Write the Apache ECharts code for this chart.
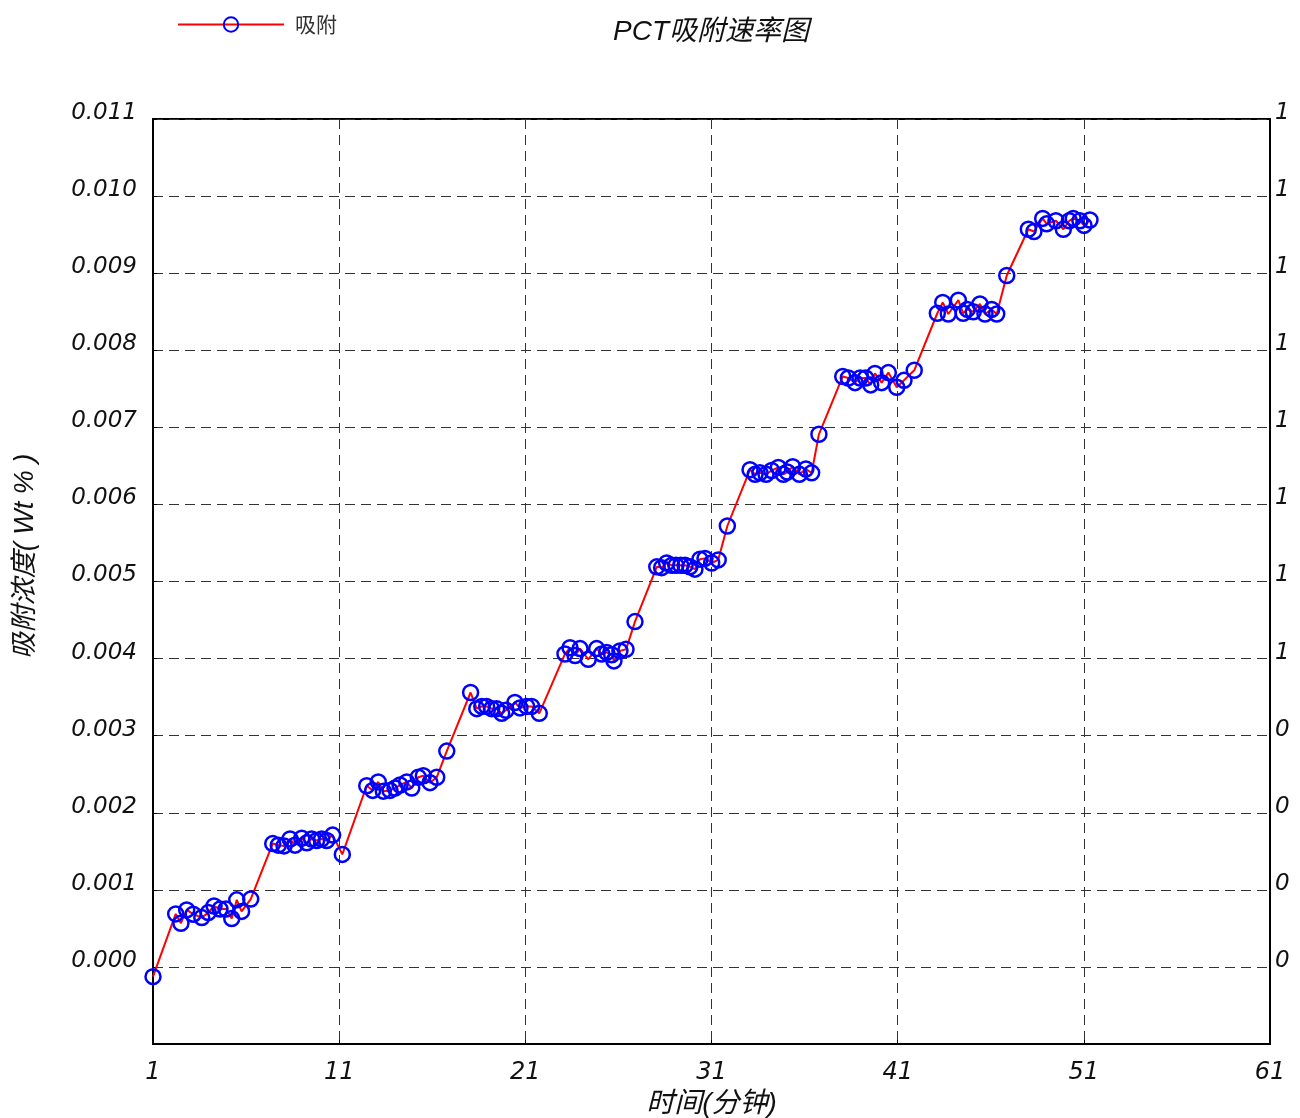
<!DOCTYPE html>
<html>
<head>
<meta charset="utf-8">
<script src="https://cdn.jsdelivr.net/npm/echarts@6/dist/echarts.min.js"></script>
<style>html,body{margin:0;padding:0;background:#fff}#c{width:1300px;height:1118px}</style>
</head>
<body>
<div id="c"></div>
<script>
// ---- data ----
const times = [
  1.0,
  2.22, 2.50, 2.81, 3.16, 3.62, 3.97, 4.28, 4.60, 4.92, 5.23, 5.50, 5.76, 6.25,
  7.43, 7.73, 8.04, 8.36, 8.63, 8.99, 9.26, 9.52, 9.79, 10.06, 10.33, 10.65, 11.17,
  12.48, 12.80, 13.10, 13.37, 13.73, 14.00, 14.27, 14.63, 14.90, 15.25, 15.52, 15.88, 16.24, 16.78,
  18.06, 18.39, 18.66, 18.92, 19.19, 19.46, 19.73, 19.96, 20.44, 20.71, 21.07, 21.34, 21.75,
  23.13, 23.40, 23.67, 23.94, 24.38, 24.83, 25.10, 25.37, 25.64, 25.76, 26.08, 26.41, 26.89,
  28.06, 28.32, 28.59, 28.86, 29.09, 29.35, 29.58, 29.84, 30.11, 30.38, 30.65, 31.01, 31.36, 31.85,
  33.07, 33.34, 33.60, 33.93, 34.23, 34.59, 34.86, 35.07, 35.36, 35.72, 36.07, 36.38, 36.77,
  38.05, 38.35, 38.71, 38.98, 39.28, 39.55, 39.78, 40.14, 40.50, 40.95, 41.34, 41.89,
  43.13, 43.42, 43.72, 44.26, 44.52, 44.74, 45.06, 45.42, 45.69, 46.05, 46.32, 46.86,
  48.02, 48.32, 48.79, 49.00, 49.50, 49.90, 50.22, 50.43, 50.79, 51.01, 51.33
];
const values = [
  -0.000126,
  0.000688, 0.000567, 0.000740, 0.000684, 0.000640, 0.000705, 0.000790, 0.000750, 0.000750, 0.000627, 0.000870, 0.000720, 0.000880,
  0.00160, 0.00158, 0.00157, 0.00166, 0.00158, 0.00167, 0.00161, 0.00166, 0.00164, 0.00166, 0.00164, 0.00171, 0.00146,
  0.00235, 0.00229, 0.00240, 0.00228, 0.00229, 0.00232, 0.00236, 0.00240, 0.00232, 0.00246, 0.00248, 0.00239, 0.00246, 0.00280,
  0.00356, 0.00335, 0.00338, 0.00338, 0.00335, 0.00335, 0.00329, 0.00333, 0.00343, 0.00336, 0.00338, 0.00338, 0.00329,
  0.00406, 0.00414, 0.00404, 0.00413, 0.00399, 0.00413, 0.00406, 0.00408, 0.00405, 0.00397, 0.00410, 0.00412, 0.00448,
  0.00519, 0.00518, 0.00524, 0.00521, 0.00521, 0.00521, 0.00521, 0.00519, 0.00516, 0.00529, 0.00530, 0.00524, 0.00528, 0.00572,
  0.00645, 0.00639, 0.00641, 0.00639, 0.00644, 0.00648, 0.00639, 0.00642, 0.00649, 0.00639, 0.00646, 0.00641, 0.00691,
  0.00766, 0.00764, 0.00758, 0.00764, 0.00764, 0.00755, 0.00770, 0.00758, 0.00771, 0.00752, 0.00761, 0.00774,
  0.00848, 0.00862, 0.00847, 0.00865, 0.00848, 0.00853, 0.00850, 0.00860, 0.00847, 0.00853, 0.00847, 0.00897,
  0.00957, 0.00954, 0.00971, 0.00964, 0.00968, 0.00957, 0.00968, 0.00971, 0.00968, 0.00962, 0.00969
];
const xTickValues = [1, 11, 21, 31, 41, 51, 61];
const yLeftLabels = ['0.000','0.001','0.002','0.003','0.004','0.005','0.006','0.007','0.008','0.009','0.010','0.011'];
const yRightLabels = ['0','0','0','0','1','1','1','1','1','1','1','1'];
const seriesName = '吸附';
const titleText = 'PCT吸附速率图';
const xName = '时间(分钟)';
const yName = '吸附浓度( Wt % )';

const points = times.map((t, i) => [t, values[i]]);
const numFont = 'DejaVu Sans';
const cjkFont = 'Liberation Sans, Noto Sans CJK SC';
function yIdx(v) { return Math.round(v * 1000); }

const chart = echarts.init(document.getElementById('c'), null, {renderer: 'canvas'});
chart.setOption({
  animation: false,
  backgroundColor: '#fff',
  title: {
    text: titleText, left: 706, top: 13, textAlign: 'center',
    textStyle: {fontSize: 28, fontStyle: 'italic', fontWeight: 'normal', color: '#111', fontFamily: cjkFont}
  },
  legend: {
    left: 172, top: 9, itemWidth: 106, itemHeight: 18, itemGap: 10,
    textStyle: {fontSize: 21, color: '#333', fontFamily: 'Noto Sans CJK SC', padding: [0, 0, 0, 6]},
    data: [seriesName]
  },
  grid: {left: 153, right: 30, top: 119, bottom: 74, show: true, borderColor: '#000', borderWidth: 2,
    containLabel: false, outerBoundsMode: 'none'},
  xAxis: {
    type: 'value', min: 1, max: 61,
    name: xName, nameLocation: 'middle', nameGap: 45,
    nameTextStyle: {fontSize: 28, fontStyle: 'italic', color: '#111', fontFamily: cjkFont},
    axisLine: {show: true, onZero: false, lineStyle: {color: '#000', width: 2}},
    axisTick: {show: true, inside: true, length: 4, customValues: xTickValues, lineStyle: {color: '#000'}},
    axisLabel: {customValues: xTickValues, margin: 17, fontSize: 24, fontStyle: 'italic', color: '#111', fontFamily: numFont},
    splitLine: {show: true, lineStyle: {color: '#333', type: [10, 6], width: 1}}
  },
  yAxis: [{
    type: 'value', min: -0.001, max: 0.011, interval: 0.001, position: 'left',
    name: yName, nameLocation: 'middle', nameGap: 114, nameRotate: 90,
    nameTextStyle: {fontSize: 27, fontStyle: 'italic', color: '#111', fontFamily: cjkFont, padding: [0, 0, 0, 50]},
    axisLine: {show: true, onZero: false, lineStyle: {color: '#000', width: 2}},
    axisTick: {show: true, inside: true, length: 4, lineStyle: {color: '#000'}},
    axisLabel: {
      margin: 16, fontSize: 23, fontStyle: 'italic', color: '#111', fontFamily: numFont,
      verticalAlign: 'bottom', lineHeight: 12,
      formatter: v => { const i = yIdx(v); return i >= 0 && i < yLeftLabels.length ? yLeftLabels[i] : ''; }
    },
    splitLine: {show: true, lineStyle: {color: '#333', type: [10, 6], width: 1}}
  }, {
    type: 'value', min: -0.001, max: 0.011, interval: 0.001, position: 'right',
    axisLine: {show: true, onZero: false, lineStyle: {color: '#000', width: 2}},
    axisTick: {show: false},
    axisLabel: {
      margin: 5, fontSize: 23, fontStyle: 'italic', color: '#111', fontFamily: numFont,
      verticalAlign: 'bottom', lineHeight: 12,
      formatter: v => { const i = yIdx(v); return i >= 0 && i < yRightLabels.length ? yRightLabels[i] : ''; }
    },
    splitLine: {show: false}
  }],
  series: [{
    name: seriesName, type: 'line', data: points,
    symbol: 'circle', symbolSize: 15, showAllSymbol: true,
    lineStyle: {color: '#ff0000', width: 2},
    itemStyle: {color: 'rgba(255,255,255,0)', borderColor: '#0000ff', borderWidth: 2.5},
    z: 3
  }]
});
</script>
</body>
</html>
